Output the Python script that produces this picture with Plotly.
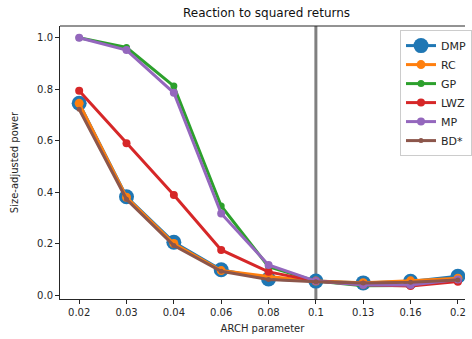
import plotly.graph_objects as go

arch_params = ["0.02", "0.03", "0.04", "0.06", "0.08", "0.1", "0.13", "0.16", "0.2"]
dmp = [0.745, 0.382, 0.205, 0.098, 0.062, 0.054, 0.047, 0.053, 0.073]
rc = [0.745, 0.380, 0.200, 0.095, 0.072, 0.054, 0.048, 0.055, 0.065]
gp = [1.000, 0.962, 0.812, 0.346, 0.110, 0.054, 0.036, 0.037, 0.058]
lwz = [0.794, 0.590, 0.389, 0.175, 0.090, 0.054, 0.040, 0.035, 0.052]
mp = [1.000, 0.952, 0.786, 0.317, 0.117, 0.054, 0.039, 0.039, 0.060]
bd = [0.722, 0.372, 0.192, 0.092, 0.060, 0.052, 0.047, 0.050, 0.058]
ref_param = "0.1"

series = [
    ("DMP", dmp, "#1f77b4", 15),
    ("RC", rc, "#ff7f0e", 9),
    ("GP", gp, "#2ca02c", 7),
    ("LWZ", lwz, "#d62728", 8),
    ("MP", mp, "#9467bd", 8),
    ("BD*", bd, "#8c564b", 5),
]

xpos = list(range(len(arch_params)))

fig = go.Figure()
for name, vals, color, msize in series:
    fig.add_trace(go.Scatter(
        x=xpos, y=vals, name=name, mode="lines+markers",
        line=dict(color=color, width=3),
        marker=dict(color=color, size=msize),
    ))

ref_idx = arch_params.index(ref_param)
fig.add_shape(type="line", xref="x", yref="paper", x0=ref_idx, x1=ref_idx,
              y0=0, y1=1, line=dict(color="#808080", width=3), layer="below")
# top spine
fig.add_shape(type="line", xref="paper", yref="paper", x0=0, x1=1,
              y0=1, y1=1, line=dict(color="#262626", width=1), layer="above")

font = dict(family="DejaVu Sans", size=10, color="#262626")
fig.update_layout(
    width=472, height=339,
    margin=dict(l=60, r=0, t=26, b=40),
    paper_bgcolor="white", plot_bgcolor="white",
    font=font,
    title=dict(text="Reaction to squared returns", xref="paper", x=0.51,
               xanchor="center", y=1 - 13 / 339, yanchor="middle",
               font=dict(family="DejaVu Sans", size=12, color="#111")),
    showlegend=True,
    legend=dict(x=0.84, y=0.985, xanchor="left", yanchor="top",
                bgcolor="rgba(255,255,255,0.9)", bordercolor="#cccccc", borderwidth=1,
                font=dict(family="DejaVu Sans", size=11, color="#262626"),
                tracegroupgap=0),
)
fig.update_xaxes(
    range=[-0.405, 8.15], autorange=False, automargin=False,
    tickmode="array", tickvals=xpos, ticktext=arch_params,
    showgrid=False, zeroline=False,
    showline=True, linecolor="#262626", linewidth=1, mirror=False,
    ticks="outside", ticklen=4, tickcolor="#262626",
    title=dict(text="ARCH parameter", standoff=7, font=dict(size=10)),
)
fig.update_yaxes(
    range=[-0.0155, 1.0455], autorange=False, automargin=False,
    tickvals=[0, 0.2, 0.4, 0.6, 0.8, 1.0], tickformat=".1f",
    showgrid=False, zeroline=False,
    showline=True, linecolor="#262626", linewidth=1, mirror=False,
    ticks="outside", ticklen=4, tickcolor="#262626",
    title=dict(text="Size-adjusted power", standoff=16, font=dict(size=10)),
)

fig.write_html("out.html")
